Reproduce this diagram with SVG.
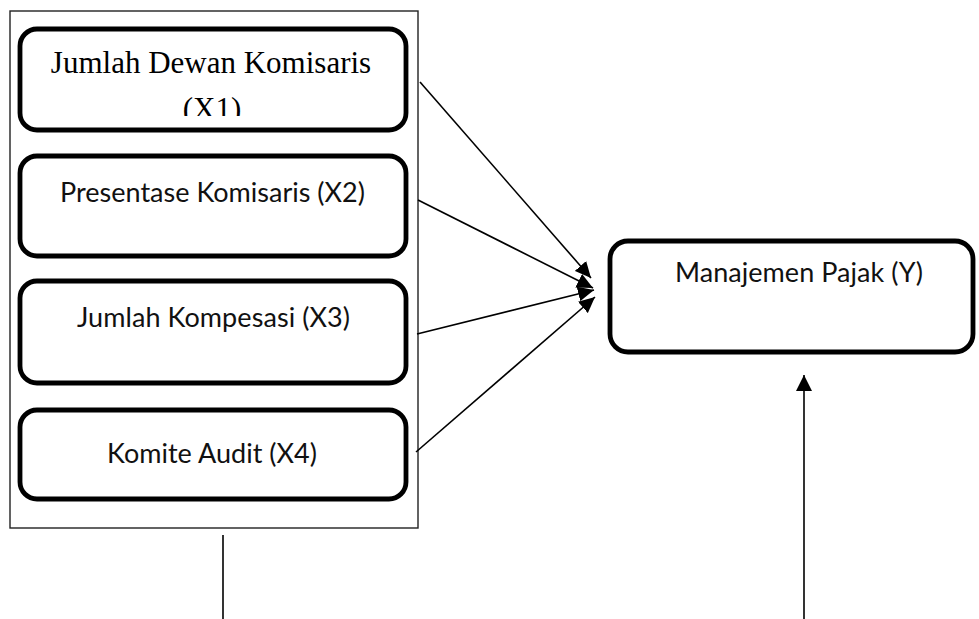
<svg xmlns="http://www.w3.org/2000/svg" width="979" height="619" viewBox="0 0 979 619">
<style>
.box{fill:#fff;stroke:#000;stroke-width:4.8}
.frame{fill:#fff;stroke:#222;stroke-width:1.4}
.tnr{font-family:"Liberation Serif","Times New Roman",serif;font-size:31px;fill:#000;text-anchor:middle}
.cal{font-family:Lato,"Open Sans",sans-serif;font-size:27px;fill:#111;text-anchor:middle}
.ln{stroke:#000;stroke-width:1.6;fill:none}
</style>
<defs>
<marker id="ah" markerUnits="userSpaceOnUse" markerWidth="17" markerHeight="15" refX="16" refY="7.5" orient="auto">
<path d="M0,0 L16,7.5 L0,15 z" fill="#000"/>
</marker>
<marker id="ahv" markerUnits="userSpaceOnUse" markerWidth="17" markerHeight="17" refX="16" refY="8" orient="auto">
<path d="M0,0 L16,8 L0,16 z" fill="#000"/>
</marker>
<clipPath id="c1"><rect x="20" y="29" width="386" height="87"/></clipPath>
<linearGradient id="fade" x1="0" y1="0" x2="1" y2="0">
<stop offset="0" stop-color="#999" stop-opacity="0"/>
<stop offset="1" stop-color="#666" stop-opacity="1"/>
</linearGradient>
</defs>
<g id="frame"><rect class="frame" x="10" y="11" width="408" height="517"/></g>
<g id="x1">
<rect class="box" x="20" y="29" width="386" height="101" rx="17"/>
<g clip-path="url(#c1)">
<text class="tnr" x="211" y="73">Jumlah Dewan Komisaris</text>
<text class="tnr" x="212" y="119">(X1)</text>
</g>
</g>
<g id="x2">
<rect class="box" x="20" y="156" width="386" height="100" rx="17"/>
<text class="cal" x="212.5" y="202" textLength="305">Presentase Komisaris (X2)</text>
</g>
<g id="x3">
<rect class="box" x="20" y="281" width="386" height="102" rx="17"/>
<text class="cal" x="213.5" y="327" textLength="273">Jumlah Kompesasi (X3)</text>
</g>
<g id="x4">
<rect class="box" x="20" y="410" width="386" height="89" rx="17"/>
<text class="cal" x="212" y="463" textLength="210">Komite Audit (X4)</text>
</g>
<g id="y">
<rect class="box" x="610" y="241" width="363" height="111" rx="18"/>
<text class="cal" x="799" y="282" textLength="248">Manajemen Pajak (Y)</text>
</g>
<g id="connectors">
<line class="ln" x1="420" y1="82" x2="591" y2="278" marker-end="url(#ah)"/>
<line class="ln" x1="418" y1="200" x2="593" y2="288" marker-end="url(#ah)"/>
<line class="ln" x1="417" y1="334" x2="594" y2="290" marker-end="url(#ah)"/>
<line class="ln" x1="416" y1="452" x2="595" y2="297" marker-end="url(#ah)"/>
<line class="ln" x1="223" y1="535" x2="223" y2="619" stroke-width="2"/>
<line class="ln" x1="804" y1="619" x2="804" y2="375" stroke-width="2" marker-end="url(#ahv)"/>
<line x1="640" y1="618.5" x2="804" y2="618.5" stroke="url(#fade)" stroke-width="1.2"/>
</g>
</svg>
